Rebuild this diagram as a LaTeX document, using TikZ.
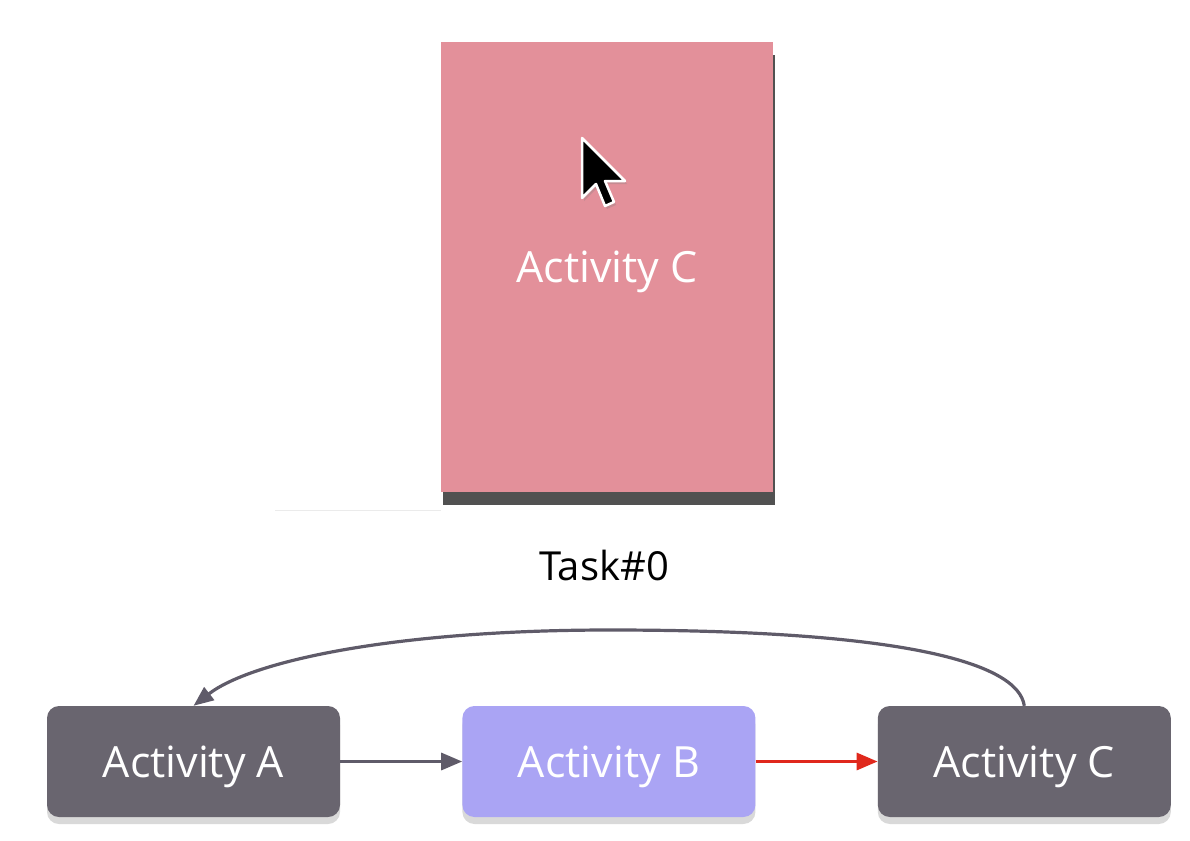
\documentclass[tikz,border=0pt]{standalone}
\usepackage{fontspec}
\setmainfont{Open Sans}
\usetikzlibrary{positioning, arrows.meta, shadows}

\definecolor{actdark}{HTML}{69656F}
\definecolor{actpurple}{HTML}{AAA4F4}
\definecolor{screenpink}{HTML}{E3909A}
\definecolor{linegray}{HTML}{5F5B69}
\definecolor{linered}{HTML}{E0281C}

\begin{document}
\begin{tikzpicture}[x=1pt, y=-1pt, node distance=122pt,
  act/.style={rectangle, rounded corners=12pt, minimum width=293pt, minimum height=111pt, text=white, text depth=0pt, font=\fontsize{43}{50}\selectfont, drop shadow={shadow xshift=0pt, shadow yshift=-7pt, opacity=0.3}},
  screen/.style={rectangle, fill=screenpink, minimum width=332pt, minimum height=450pt, text=white, text depth=0pt, font=\fontsize{43}{50}\selectfont, drop shadow={shadow xshift=2pt, shadow yshift=-13pt, fill=black!80, opacity=0.85}},
  link/.style={line width=3.2pt, -{Triangle[length=21pt, width=17pt]}}]
  \useasboundingbox (0,0) rectangle (1190,840);

  % phone screen
  \draw[black!8, line width=1pt] (275,510) -- (441,510);
  \node[screen] (screen) at (607,267) {Activity C};
  \filldraw[fill=black, draw=white, line width=2.5pt, line join=round, drop shadow={shadow xshift=2pt, shadow yshift=-3pt, opacity=0.3}]
    (582,138) -- (582,198) -- (596,184) -- (605,206) -- (614,202) -- (605,181) -- (625,181) -- cycle;
  \node[font=\fontsize{40}{48}\selectfont] (task) at (604,565) {Task\#0};

  % back stack
  \node[act, fill=actdark] (actA) at (193.5,761.5) {Activity A};
  \node[act, fill=actpurple, right=of actA] (actB) {Activity B};
  \node[act, fill=actdark, right=of actB] (actC) {Activity C};

  \draw[link, linegray] (actA) -- (actB);
  \draw[link, linered] (actB) -- (actC);
  \draw[linegray, line width=3.2pt, -{Triangle[length=20pt, width=16pt]}] (actC.north) .. controls (1018,662) and (900,630) .. (610,630) .. controls (390,630) and (250,662) .. (actA.north);
\end{tikzpicture}
\end{document}
